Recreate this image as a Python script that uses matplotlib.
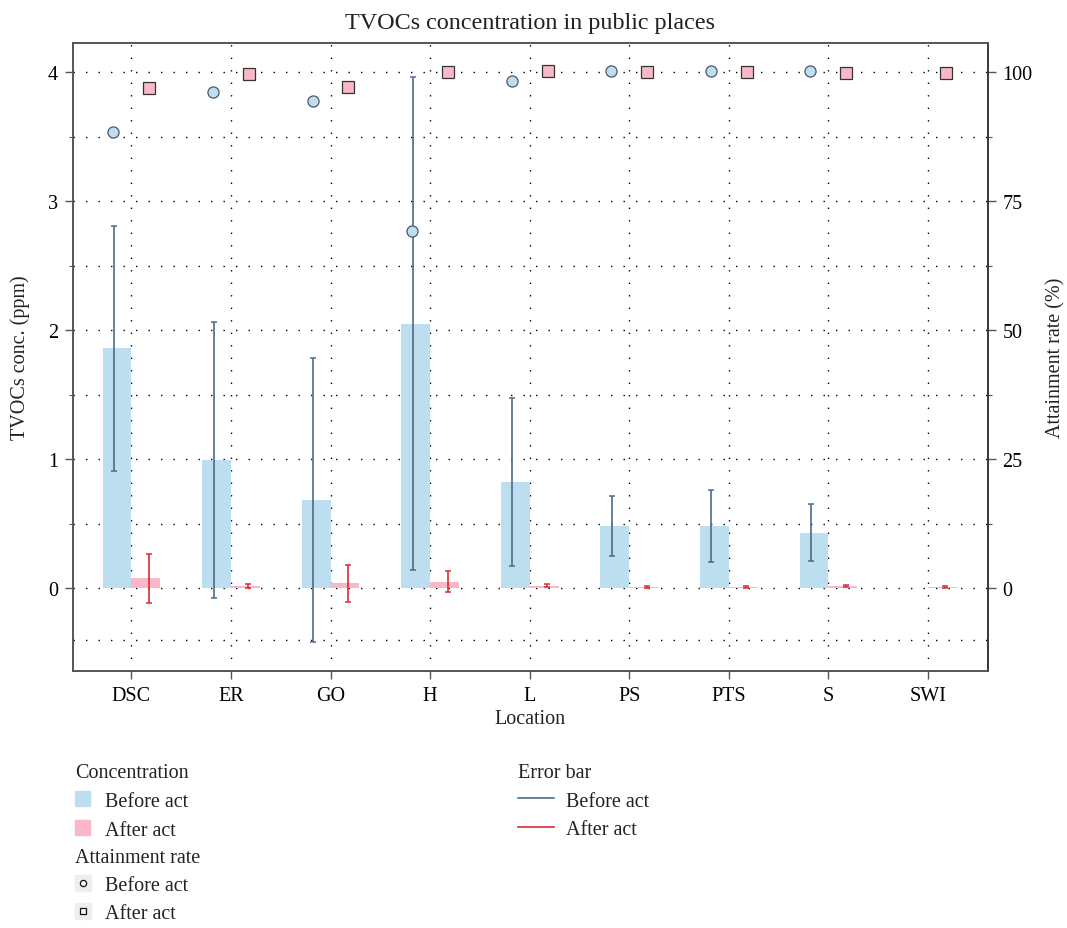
import numpy as np
import matplotlib
matplotlib.use("Agg")
import matplotlib.pyplot as plt
from matplotlib.patches import Patch
from matplotlib.lines import Line2D

plt.rcParams["font.family"] = ["Liberation Serif", "DejaVu Serif"]
plt.rcParams["font.size"] = 14.5
plt.rcParams["text.color"] = "#222222"
plt.rcParams["axes.labelcolor"] = "#222222"

# TVOCs data per location (ppm), before / after the act
locations = ["DSC", "ER", "GO", "H", "L", "PS", "PTS", "S", "SWI"]
conc_before = [1.86, 0.99, 0.68, 2.05, 0.82, 0.48, 0.48, 0.43, np.nan]
sd_before = [0.95, 1.07, 1.10, 1.91, 0.65, 0.23, 0.28, 0.22, np.nan]
conc_after = [0.075, 0.016, 0.035, 0.05, 0.018, 0.01, 0.01, 0.015, 0.01]
sd_after = [0.19, 0.018, 0.145, 0.08, 0.012, 0.008, 0.008, 0.01, 0.008]

# attainment rate (%)
rate_before = [88.4, 96.1, 94.4, 69.1, 98.3, 100.3, 100.3, 100.2, np.nan]
rate_after = [97.0, 99.7, 97.1, 100.0, 100.2, 100.1, 100.1, 99.9, 99.9]

c_before = "#bddeef"
c_after = "#f8b8c8"
c_err_before = "#4d6b8a"
c_err_after = "#d62f35"
spine_col = "#555555"

x = np.arange(1, len(locations) + 1)
bw = 0.29

fig = plt.figure(figsize=(10.67, 9.29), dpi=100)
ax = fig.add_axes([0.0681, 0.2767, 0.8576, 0.6759])
ax2 = ax.twinx()

ylim = (-0.643, 4.225)
ax.set_xlim(0.41, 9.6)
ax.set_ylim(*ylim)
ax2.set_ylim(ylim[0] * 25, ylim[1] * 25)

# dotted grid
grid_kw = dict(color="black", lw=1.0, ls=(0, (1, 8)), zorder=0)
for yv in [-0.4, 0, 0.5, 1, 1.5, 2, 2.5, 3, 3.5, 4]:
    ax.axhline(yv, **grid_kw)
for xv in x:
    ax.axvline(xv, **grid_kw)

ax.bar(x - bw / 2, conc_before, width=bw, color=c_before, zorder=2)
ax.bar(x + bw / 2, conc_after, width=bw, color=c_after, zorder=2)

ax.errorbar(x - 0.175, conc_before, yerr=sd_before, fmt="none",
            ecolor=c_err_before, elinewidth=1.2, capsize=2.5, capthick=1.1, zorder=3)
ax.errorbar(x + 0.175, conc_after, yerr=sd_after, fmt="none",
            ecolor=c_err_after, elinewidth=1.2, capsize=2.5, capthick=1.1, zorder=3)

ax2.plot(x - 0.18, rate_before, "o", ms=8, mfc=c_before, mec="#4a5868", mew=0.9, ls="none")
ax2.plot(x + 0.18, rate_after, "s", ms=8, mfc=c_after, mec="#333333", mew=0.9, ls="none")

ax.set_xticks(x)
ax.set_xticklabels(locations)
ax.set_yticks([0, 1, 2, 3, 4])
ax.set_yticks([0.5, 1.5, 2.5, 3.5], minor=True)
ax2.set_yticks([0, 25, 50, 75, 100])
ax2.set_yticks([12.5, 37.5, 62.5, 87.5], minor=True)

for a in (ax, ax2):
    a.tick_params(which="major", length=5.5, width=1.0, color=spine_col, pad=5)
    a.tick_params(which="minor", length=3, width=0.8, color=spine_col)
    for s in a.spines.values():
        s.set_color(spine_col)
        s.set_linewidth(1.2)
ax2.spines["right"].set_color("#333333")

ax.set_xlabel("Location", labelpad=3)
ax.set_ylabel("TVOCs conc. (ppm)", labelpad=13)
ax2.set_ylabel("Attainment rate (%)", labelpad=10)
ax.set_title("TVOCs concentration in public places", pad=11)

# legends below the panel
leg_kw = dict(frameon=False, borderpad=0, alignment="left", fontsize=14.5,
              title_fontsize=14.5, loc="upper left")
fig.legend([Patch(color=c_before), Patch(color=c_after)],
           ["Before act", "After act"], title="Concentration",
           handlelength=0.75, handleheight=0.75, labelspacing=0.47, handletextpad=0.75,
           bbox_to_anchor=(0.061, 0.1885), **leg_kw)
bg = dict(marker="s", ms=11, color="#eeeeee", ls="none")
fig.legend([(Line2D([], [], **bg),
             Line2D([], [], marker="o", ms=4.5, mfc="#f4f4f4", mec="#111111", mew=0.9, ls="none")),
            (Line2D([], [], **bg),
             Line2D([], [], marker="s", ms=4.5, mfc="#f4f4f4", mec="#111111", mew=0.9, ls="none"))],
           ["Before act", "After act"], title="Attainment rate",
           handlelength=0.75, labelspacing=0.45, handletextpad=0.75,
           bbox_to_anchor=(0.061, 0.097), **leg_kw)
fig.legend([Line2D([], [], color=c_err_before, lw=1.2),
            Line2D([], [], color=c_err_after, lw=1.2)],
           ["Before act", "After act"], title="Error bar",
           handlelength=1.8, labelspacing=0.47, handletextpad=0.6,
           bbox_to_anchor=(0.4756, 0.1885), **leg_kw)

fig.savefig("out.png", dpi=100)
